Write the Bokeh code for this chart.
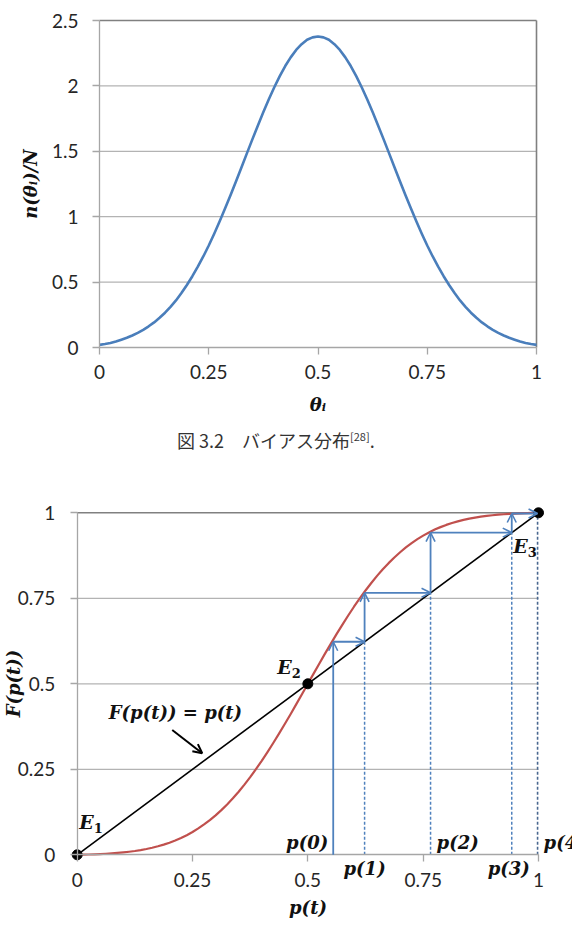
from bokeh.plotting import figure
from bokeh.models import Range1d, LinearAxis, FixedTicker, ColumnDataSource, Arrow, OpenHead, Div
from bokeh.layouts import column
from bokeh.embed import file_html
from bokeh.resources import INLINE
from bokeh.core.properties import value

# ---------------- data: bias distribution n(theta_i)/N ----------------
theta = [i * 0.0125 for i in range(81)]
density = [0.020, 0.027, 0.035, 0.046, 0.060, 0.075, 0.092, 0.112, 0.135, 0.162,
           0.192, 0.227, 0.266, 0.311, 0.360, 0.416, 0.478, 0.545, 0.618, 0.696,
           0.780, 0.870, 0.965, 1.064, 1.166, 1.271, 1.378, 1.486, 1.593, 1.698,
           1.800, 1.898, 1.990, 2.075, 2.152, 2.218, 2.275, 2.319, 2.353, 2.371,
           2.378,
           2.371, 2.353, 2.319, 2.275, 2.218, 2.152, 2.075, 1.990, 1.898, 1.800,
           1.698, 1.593, 1.486, 1.378, 1.271, 1.166, 1.064, 0.965, 0.870, 0.780,
           0.696, 0.618, 0.545, 0.478, 0.416, 0.360, 0.311, 0.266, 0.227, 0.192,
           0.162, 0.135, 0.112, 0.092, 0.075, 0.060, 0.046, 0.035, 0.027, 0.020]
theta_ticks = [0, 0.25, 0.5, 0.75, 1]
theta_tick_labels = ["0", "0.25", "0.5", "0.75", "1"]
density_ticks = [0, 0.5, 1, 1.5, 2, 2.5]
density_tick_labels = ["0", "0.5", "1", "1.5", "2", "2.5"]

# ---------------- data: map F(p(t)) and its iteration ----------------
p_grid = [i * 0.0125 for i in range(81)]
F_vals = [0.0000, 0.0004, 0.0009, 0.0015, 0.0022, 0.0031, 0.0042, 0.0055, 0.0071, 0.0090,
          0.0112, 0.0139, 0.0170, 0.0207, 0.0250, 0.0298, 0.0354, 0.0419, 0.0491, 0.0574,
          0.0667, 0.0771, 0.0887, 0.1013, 0.1153, 0.1306, 0.1472, 0.1651, 0.1845, 0.2053,
          0.2271, 0.2504, 0.2747, 0.3002, 0.3269, 0.3542, 0.3825, 0.4111, 0.4406, 0.4702,
          0.5000,
          0.5298, 0.5594, 0.5889, 0.6175, 0.6458, 0.6731, 0.6998, 0.7253, 0.7496, 0.7729,
          0.7947, 0.8155, 0.8349, 0.8528, 0.8694, 0.8847, 0.8987, 0.9113, 0.9229, 0.9333,
          0.9426, 0.9509, 0.9581, 0.9646, 0.9702, 0.9750, 0.9793, 0.9830, 0.9861, 0.9888,
          0.9910, 0.9929, 0.9945, 0.9958, 0.9969, 0.9978, 0.9985, 0.9991, 0.9996, 1.0000]
p_ticks = [0, 0.25, 0.5, 0.75, 1]
p_tick_labels = ["0", "0.25", "0.5", "0.75", "1"]
F_ticks = [0, 0.25, 0.5, 0.75, 1]
F_tick_labels = ["0", "0.25", "0.5", "0.75", "1"]
fixed_p = [0, 0.5, 1]                       # E1, E2, E3 on F(p) = p
fixed_sub = ["1", "2", "3"]
p_iter = [0.555, 0.623, 0.766, 0.942, 0.998]  # p(0) ... p(4)
p_iter_labels = ["p(0)", "p(1)", "p(2)", "p(3)", "p(4)"]

# ---------------- styling ----------------
BLUE_CURVE = "#4a7ebb"
RED = "#c0504d"
STEP = "#4f81bd"
GRID = "#b3b3b3"
BORDER = "#808080"
TICK_FONT = "Lato"
MATH_FONT = "DejaVu Serif"
W = 572


def frame_range(v0, v1, px0, px1, total, vertical=False):
    """Range that puts value v0 at pixel px0 and v1 at px1 on a canvas of given size."""
    if not vertical:
        s = (v1 - v0) / (px1 - px0)
        return Range1d(v0 - px0 * s, v0 + (total - px0) * s)
    s = (v1 - v0) / (px0 - px1)   # px measured from top, px0 belongs to v0 (lower value)
    return Range1d(v0 - (total - px0) * s, v1 + px1 * s)


def style_axis(ax, ticks, labels, label_standoff, title_standoff):
    ax.ticker = FixedTicker(ticks=ticks)
    ax.major_label_overrides = dict(zip(ticks, labels))
    ax.axis_line_color = "#a6a6a6"
    ax.axis_line_width = 1.3
    ax.major_tick_line_color = "#a6a6a6"
    ax.major_tick_line_width = 1.3
    ax.major_tick_out = 7
    ax.major_tick_in = 0
    ax.minor_tick_out = 0
    ax.minor_tick_in = 0
    ax.major_label_text_font = TICK_FONT
    ax.major_label_text_font_size = "19px"
    ax.major_label_text_color = "#262626"
    ax.major_label_standoff = label_standoff
    ax.axis_label_text_font = MATH_FONT
    ax.axis_label_text_font_style = "bold italic"
    ax.axis_label_text_font_size = "18px"
    ax.axis_label_text_color = "#111111"
    ax.axis_label_standoff = title_standoff


def make_fig(height, xr, yr):
    p = figure(width=W, height=height, x_range=xr, y_range=yr,
               x_axis_type=None, y_axis_type=None, min_border=0,
               output_backend="svg", toolbar_location=None, margin=0)
    p.outline_line_color = None
    p.background_fill_color = "white"
    return p


# ================= upper chart =================
H1 = 420
f1 = make_fig(H1,
              frame_range(theta_ticks[0], theta_ticks[-1], 99, 536, W),
              frame_range(density_ticks[0], density_ticks[-1], 347, 20, H1, vertical=True))

x0, x1 = theta_ticks[0], theta_ticks[-1]
inner = density_ticks[1:-1]
f1.segment(x0=x0, x1=x1, y0=inner, y1=inner, line_color=GRID, line_width=1.2)
f1.segment(x0=x0, x1=x1, y0=density_ticks[-1], y1=density_ticks[-1], line_color=BORDER, line_width=1.6)
f1.segment(x0=x1, x1=x1, y0=density_ticks[0], y1=density_ticks[-1], line_color=BORDER, line_width=1.6)

xa1 = LinearAxis(fixed_location=0, bounds=(x0, x1), axis_label="θᵢ")
style_axis(xa1, theta_ticks, theta_tick_labels, 10, 12)
f1.add_layout(xa1, "below")
ya1 = LinearAxis(fixed_location=0, bounds=(density_ticks[0], density_ticks[-1]), axis_label="n(θᵢ)/N")
style_axis(ya1, density_ticks, density_tick_labels, 14, 8)
f1.add_layout(ya1, "left")

f1.line(theta, density, line_color=BLUE_CURVE, line_width=2.6, line_join="round")

# ================= caption =================
caption = Div(
    text=('<div style="padding-left:177px; line-height:32px; font-family:\'Noto Sans CJK JP\'; '
          'font-size:18px; color:#333; white-space:nowrap;">'
          '図 3.2\u3000バイアス分布<sup style="font-size:11px;">[28]</sup>.</div>'),
    width=W, height=36, margin=0)

# ================= lower chart =================
H2 = 491
TOP2 = 456
f2 = make_fig(H2,
              frame_range(p_ticks[0], p_ticks[-1], 76.7, 538, W),
              frame_range(F_ticks[0], F_ticks[-1], 854.3 - TOP2, 512.3 - TOP2, H2, vertical=True))

px0, px1 = p_ticks[0], p_ticks[-1]
inner2 = F_ticks[1:-1]
f2.segment(x0=px0, x1=px1, y0=inner2, y1=inner2, line_color=GRID, line_width=1.2)
f2.segment(x0=px0, x1=px1, y0=F_ticks[-1], y1=F_ticks[-1], line_color=BORDER, line_width=1.6)

xa2 = LinearAxis(fixed_location=0, bounds=(px0, px1), axis_label="p(t)")
style_axis(xa2, p_ticks, p_tick_labels, 11, 7)
f2.add_layout(xa2, "below")
ya2 = LinearAxis(fixed_location=0, bounds=(F_ticks[0], F_ticks[-1]), axis_label="F(p(t))")
style_axis(ya2, F_ticks, F_tick_labels, 15, -9)
f2.add_layout(ya2, "left")

# identity line F(p) = p
f2.line([px0, px1], [px0, px1], line_color="black", line_width=1.6)
# the map F(p)
f2.line(p_grid, F_vals, line_color=RED, line_width=2.2, line_join="round")

# dashed drop lines from the diagonal to the axis for p(1) .. p(4)
drop_x = p_iter[1:]
f2.segment(x0=drop_x[:-1], x1=drop_x[:-1], y0=0, y1=drop_x[:-1],
           line_color=STEP, line_width=1.5, line_dash="3 2")
f2.segment(x0=drop_x[-1], x1=drop_x[-1], y0=0, y1=drop_x[-1],
           line_color="#4a6890", line_width=1.6, line_dash="3 2")

# cobweb steps: vertical to F(p), horizontal to the diagonal
v_src = ColumnDataSource(dict(
    xs=p_iter[:-1], xe=p_iter[:-1],
    ys=[0] + p_iter[1:-1], ye=p_iter[1:]))
h_src = ColumnDataSource(dict(
    xs=p_iter[:-1], xe=p_iter[1:],
    ys=p_iter[1:], ye=p_iter[1:]))
for src in (v_src, h_src):
    f2.add_layout(Arrow(source=src, x_start="xs", y_start="ys", x_end="xe", y_end="ye",
                        line_color=STEP, line_width=1.8,
                        end=OpenHead(size=9, line_color=STEP, line_width=1.6)))

# fixed points
f2.scatter(fixed_p, fixed_p, size=10, color="black")

# E labels with subscripts
e_dx = [2, -30.6, -25.3]
e_dy = [-32.6, -16.6, 32.7]
f2.text(fixed_p, fixed_p, text=["E"] * 3, x_offset=e_dx, y_offset=e_dy,
        text_font=value(MATH_FONT), text_font_style="bold italic", text_font_size="19px",
        text_align="left", text_baseline="middle", text_color="#111111")
f2.text(fixed_p, fixed_p, text=fixed_sub, x_offset=[d + 14.5 for d in e_dx],
        y_offset=[d + 6 for d in e_dy],
        text_font=value(MATH_FONT), text_font_style="bold", text_font_size="13px",
        text_align="left", text_baseline="middle", text_color="#111111")

# p(k) labels along the axis
label_groups = [
    ([0], "right", [-5], -12.6),
    ([2, 4], "left", [6, 6], -12.6),
    ([1, 3], "center", [0, -3], 13.7),
]
for idx, align, dxs, dy in label_groups:
    f2.text([p_iter[i] for i in idx], [0] * len(idx), text=[p_iter_labels[i] for i in idx],
            x_offset=dxs, y_offset=dy,
            text_font=value(MATH_FONT), text_font_style="bold italic", text_font_size="18px",
            text_align=align, text_baseline="middle", text_color="#111111")

# annotation of the identity line
f2.text([0.213], [0.416], text=["F(p(t)) = p(t)"],
        text_font=value(MATH_FONT), text_font_style="bold italic", text_font_size="18px",
        text_align="center", text_baseline="middle", text_color="#111111")
f2.add_layout(Arrow(x_start=0.206, y_start=0.365, x_end=0.271, y_end=0.297,
                    line_color="black", line_width=2,
                    end=OpenHead(size=9, line_color="black", line_width=2)))

layout = column(f1, caption, f2, spacing=0, margin=0)
open("out.html", "w").write(file_html(layout, INLINE))
